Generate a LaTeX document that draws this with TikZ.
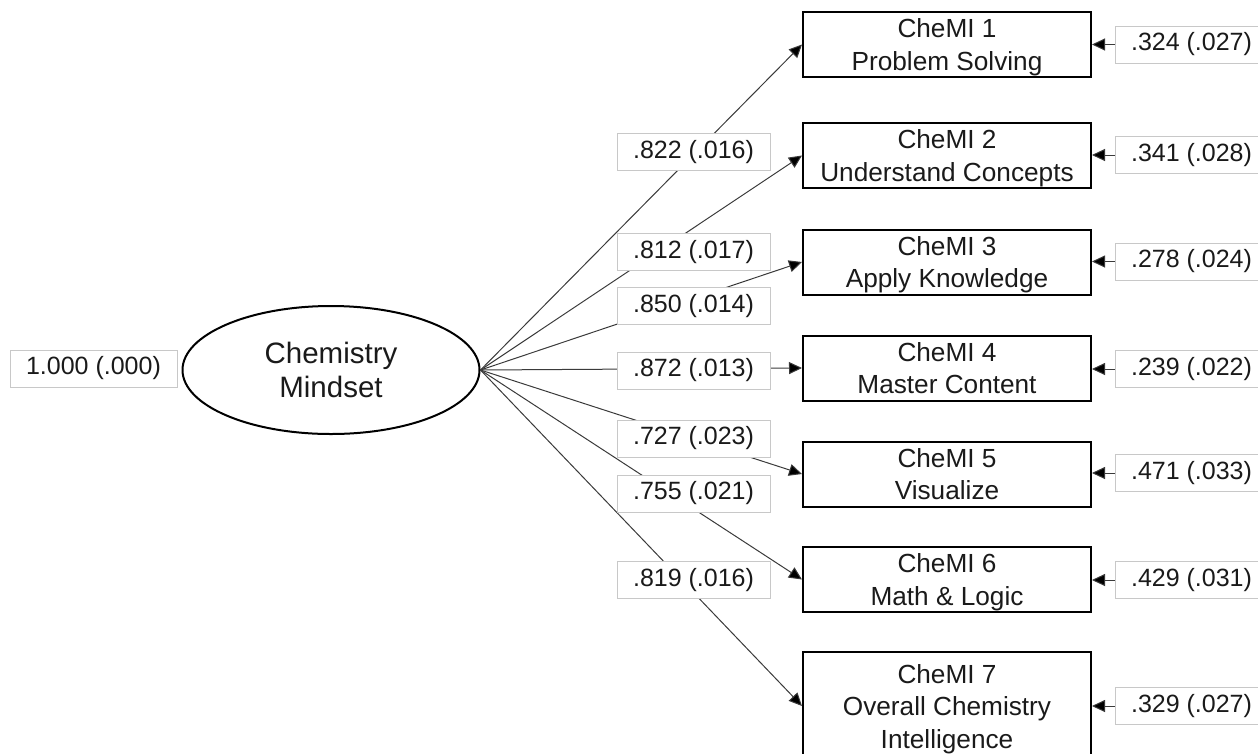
\documentclass[tikz,border=0pt]{standalone}
\usepackage{fontspec}
\setmainfont{Liberation Sans}
\usetikzlibrary{arrows.meta,shapes.geometric}
\definecolor{textc}{HTML}{1A1A1A}
\definecolor{labgray}{HTML}{C8C8C8}
\definecolor{linec}{HTML}{3A3A3A}
\newcommand\bxtext[1]{\raisebox{-3pt}[\height][\depth]{\begin{tabular}{@{}c@{}}#1\end{tabular}}}
\begin{document}
\begin{tikzpicture}[x=1pt,y=-1pt,
  ind/.style={draw=black,line width=2pt,minimum width=288pt,minimum height=65pt,inner sep=0pt,align=center,font=\fontsize{26.2}{32.5}\selectfont,text=textc},
  lab/.style={draw=labgray,line width=0.8pt,fill=white,minimum width=153pt,minimum height=37pt,inner sep=0pt,font=\fontsize{25}{29}\selectfont,text=textc},
  lnk/.style={draw=linec,line width=1pt,-{Triangle[length=13pt,width=12pt,fill=black]}},
]
\useasboundingbox (0,0) rectangle (1258,753);
% latent factor
\node[ellipse,draw=black,line width=2pt,minimum width=297pt,minimum height=128pt,inner sep=0pt,align=center,font=\fontsize{29.5}{33.5}\selectfont,text=textc] (cm) at (331,370) {Chemistry\\Mindset};
% indicators
\node[ind] (b1) at (947,44.5) {\bxtext{CheMI 1\\Problem Solving}};
\node[ind] (b2) at (947,155.5) {\bxtext{CheMI 2\\Understand Concepts}};
\node[ind] (b3) at (947,262) {\bxtext{CheMI 3\\Apply Knowledge}};
\node[ind] (b4) at (947,368) {\bxtext{CheMI 4\\Master Content}};
\node[ind] (b5) at (947,474) {\bxtext{CheMI 5\\Visualize}};
\node[ind] (b6) at (947,579.5) {\bxtext{CheMI 6\\Math \& Logic}};
\node[ind,minimum height=108pt] (b7) at (947,706) {\bxtext{CheMI 7\\Overall Chemistry\\Intelligence}};
% loadings
\foreach \b in {b1,b2,b3,b4,b5,b6,b7}{\draw[lnk] (cm.east) -- (\b.west);}
\node[lab] (l1) at (693.5,152) {.822 (.016)};
\node[lab] (l2) at (693.5,252) {.812 (.017)};
\node[lab] (l3) at (693.5,306) {.850 (.014)};
\node[lab] (l4) at (693.5,370.5) {.872 (.013)};
\node[lab] (l5) at (693.5,438.5) {.727 (.023)};
\node[lab] (l6) at (693.5,493.5) {.755 (.021)};
\node[lab] (l7) at (693.5,580) {.819 (.016)};
% factor variance
\node[lab,minimum width=167pt] (fv) at (93.5,368.5) {1.000 (.000)};
% residuals
\node[lab] (r1) at (1191.5,44.5) {.324 (.027)};
\node[lab] (r2) at (1191.5,155) {.341 (.028)};
\node[lab] (r3) at (1191.5,261.5) {.278 (.024)};
\node[lab] (r4) at (1191.5,369) {.239 (.022)};
\node[lab] (r5) at (1191.5,473) {.471 (.033)};
\node[lab] (r6) at (1191.5,580) {.429 (.031)};
\node[lab] (r7) at (1191.5,706) {.329 (.027)};
\foreach \i in {1,...,7}{\draw[lnk] (r\i.west) -- (r\i.west -| b\i.east);}
\end{tikzpicture}
\end{document}
